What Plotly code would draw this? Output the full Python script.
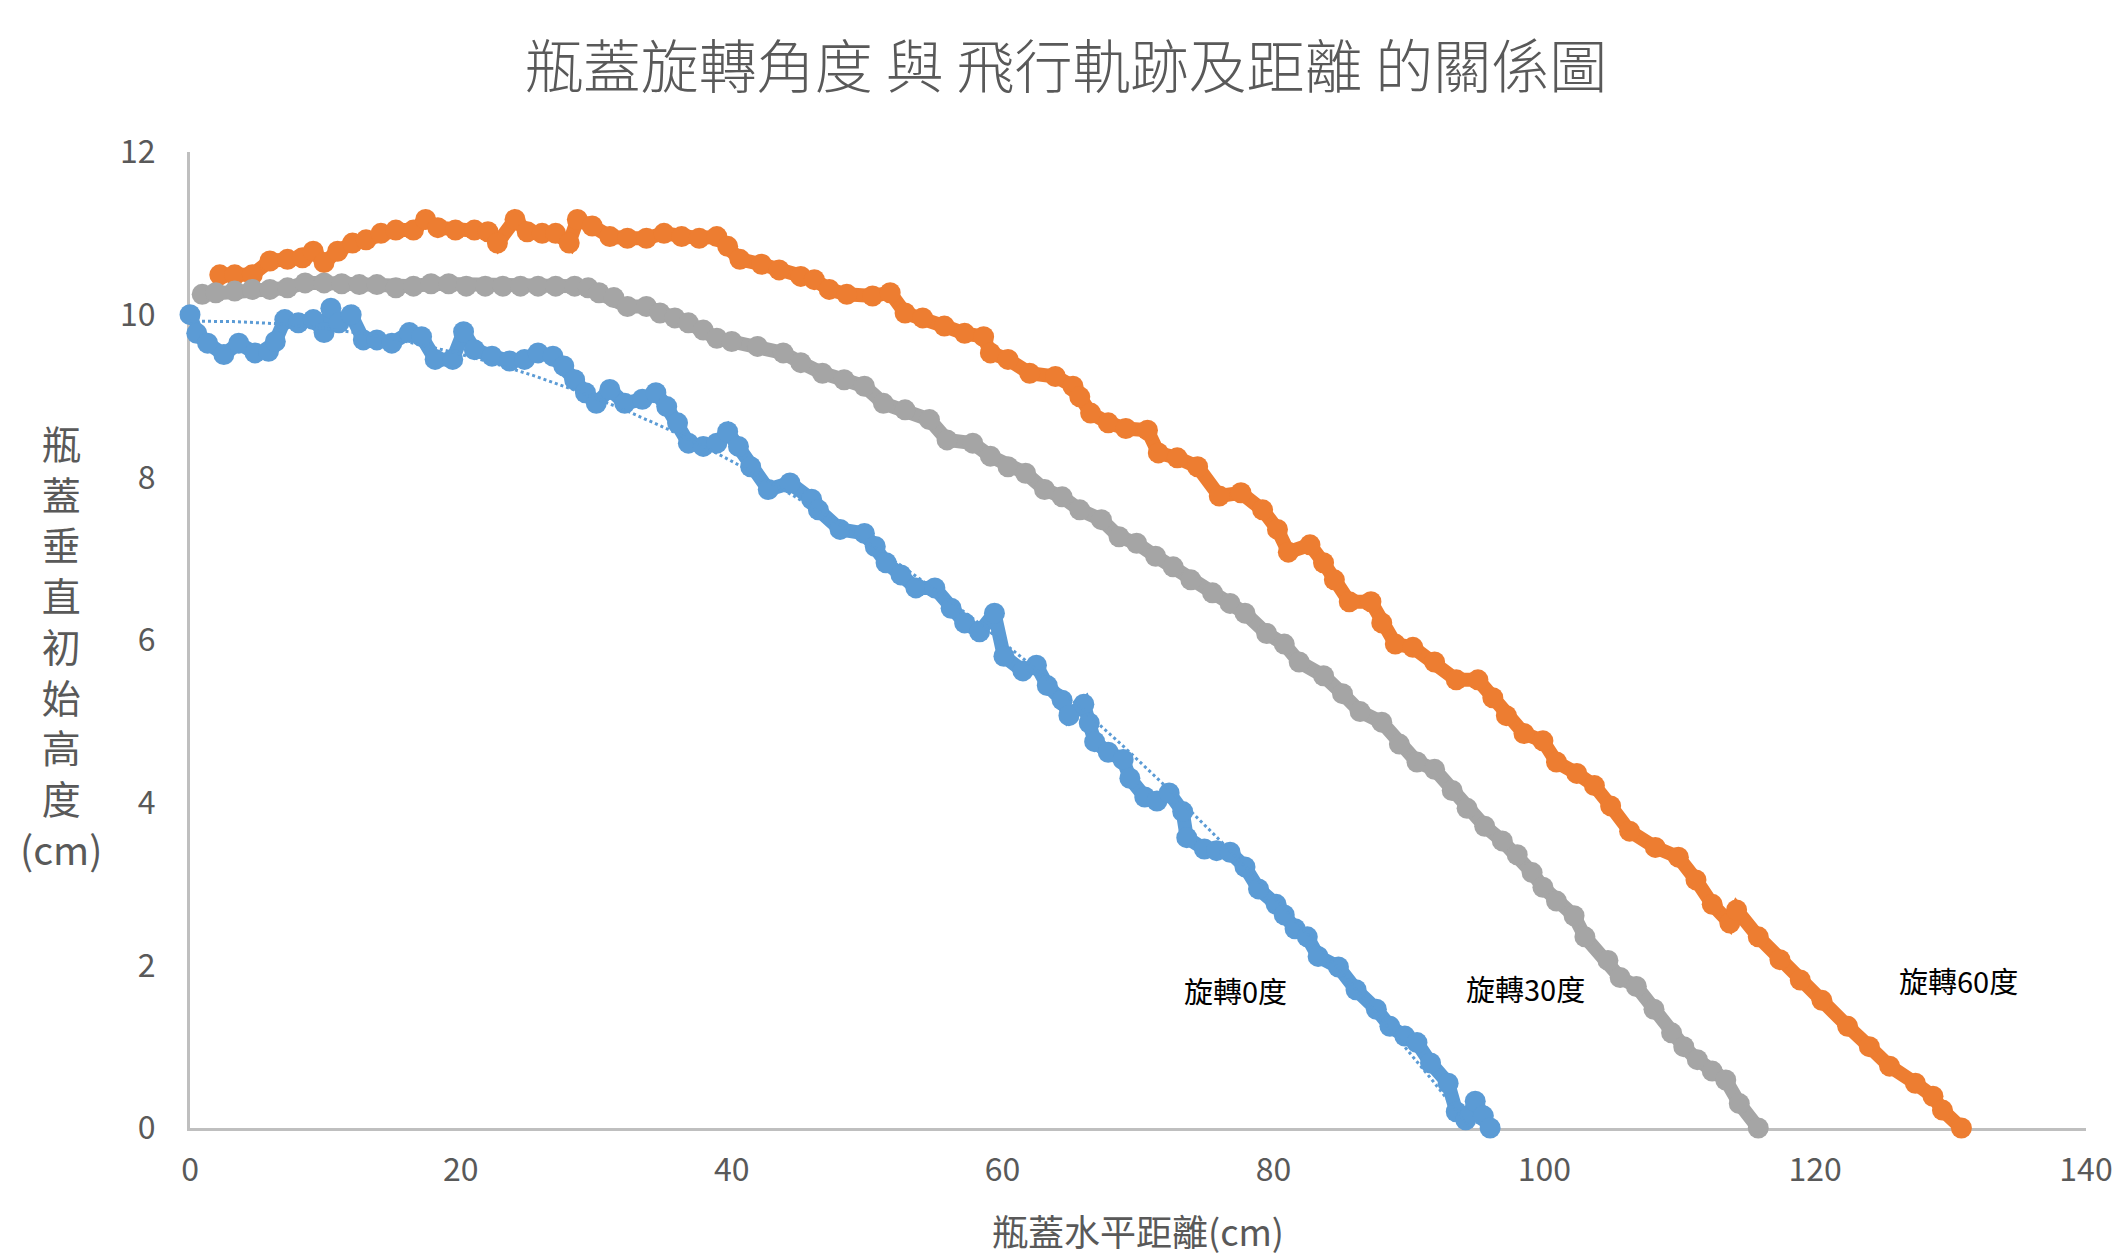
import numpy as np
import plotly.graph_objects as go

# ---------------- data ----------------
blue_x = [0.0, 0.5, 1.3, 2.5, 3.6, 4.8, 5.8, 6.3, 7.0, 8.0, 9.1, 9.9, 10.4, 11.0, 11.9,
          12.8, 13.8, 14.9, 16.2, 17.1, 18.1, 19.4, 20.2, 21.0, 22.3, 23.6, 24.7, 25.7,
          26.8, 27.6, 28.4, 29.2, 30.0, 31.0, 32.1, 33.4, 34.4, 35.2, 36.0, 36.8, 37.9,
          38.9, 39.7, 40.5, 41.4, 42.7, 44.3, 45.9, 46.4, 48.0, 49.8, 50.6, 51.4, 52.5,
          53.6, 55.0, 56.2, 57.2, 58.3, 59.4, 60.1, 61.5, 62.5, 63.3, 64.4, 64.9, 66.0,
          66.4, 66.8, 67.8, 68.9, 69.4, 70.5, 71.4, 72.3, 73.3, 73.6, 74.9, 75.8, 76.8,
          77.9, 78.9, 80.2, 80.8, 81.6, 82.5, 83.3, 84.8, 86.1, 87.6, 88.6, 89.7, 90.6,
          91.6, 92.9, 93.5, 94.2, 94.9, 95.5, 96.0]
blue_y = [10.0, 9.77, 9.65, 9.51, 9.65, 9.53, 9.55, 9.67, 9.94, 9.90, 9.94, 9.78, 10.08,
          9.90, 10.0, 9.69, 9.69, 9.65, 9.78, 9.73, 9.45, 9.45, 9.79, 9.57, 9.49, 9.43,
          9.45, 9.53, 9.49, 9.37, 9.20, 9.04, 8.91, 9.08, 8.91, 8.96, 9.04, 8.87, 8.67,
          8.42, 8.38, 8.42, 8.56, 8.38, 8.13, 7.85, 7.93, 7.73, 7.60, 7.36, 7.31, 7.15,
          6.95, 6.80, 6.64, 6.64, 6.39, 6.21, 6.10, 6.33, 5.80, 5.62, 5.69, 5.44, 5.26,
          5.07, 5.21, 4.98, 4.75, 4.62, 4.53, 4.30, 4.07, 4.02, 4.12, 3.89, 3.57, 3.43,
          3.41, 3.39, 3.21, 2.94, 2.75, 2.62, 2.45, 2.35, 2.11, 1.98, 1.70, 1.46, 1.25,
          1.13, 1.05, 0.80, 0.55, 0.20, 0.10, 0.33, 0.15, 0.0]

gray_x = [0.9, 1.9, 3.3, 4.6, 5.9, 7.2, 8.5, 9.9, 11.2, 12.5, 13.8, 15.2, 16.5, 17.8,
          19.1, 20.4, 21.8, 23.1, 24.4, 25.7, 27.0, 28.4, 29.4, 30.2, 31.3, 32.3, 33.7,
          34.7, 35.8, 36.8, 37.9, 38.9, 40.0, 41.9, 43.8, 45.1, 46.7, 48.3, 49.8, 51.2,
          52.8, 54.6, 55.9, 57.8, 59.1, 60.4, 61.7, 63.1, 64.4, 65.7, 67.3, 68.6, 69.9,
          71.3, 72.6, 73.9, 75.5, 76.8, 77.9, 79.5, 80.8, 81.9, 83.7, 85.1, 86.4, 88.0,
          89.3, 90.6, 91.9, 93.2, 94.3, 95.6, 96.9, 98.0, 99.1, 99.9, 100.9, 102.2,
          103.0, 104.7, 105.6, 106.8, 108.1, 109.4, 110.3, 111.3, 112.4, 113.4, 114.4,
          115.8]
gray_y = [10.25, 10.27, 10.29, 10.31, 10.31, 10.33, 10.39, 10.39, 10.38, 10.37, 10.37,
          10.33, 10.35, 10.38, 10.38, 10.35, 10.35, 10.35, 10.35, 10.35, 10.35, 10.35,
          10.33, 10.27, 10.21, 10.10, 10.10, 10.02, 9.96, 9.90, 9.81, 9.71, 9.67, 9.61,
          9.53, 9.41, 9.28, 9.20, 9.12, 8.91, 8.83, 8.71, 8.46, 8.42, 8.26, 8.13, 8.05,
          7.85, 7.76, 7.60, 7.48, 7.27, 7.19, 7.03, 6.90, 6.74, 6.58, 6.45, 6.33, 6.08,
          5.95, 5.73, 5.56, 5.34, 5.12, 4.99, 4.72, 4.50, 4.41, 4.15, 3.93, 3.71, 3.53,
          3.36, 3.14, 2.96, 2.79, 2.61, 2.35, 2.06, 1.85, 1.74, 1.46, 1.17, 1.00, 0.84,
          0.70, 0.59, 0.30, 0.0]

orange_x = [2.2, 3.3, 4.6, 5.9, 7.2, 8.3, 9.1, 9.9, 10.9, 12.0, 13.0, 14.1, 15.2, 16.5,
            17.4, 18.3, 19.6, 21.0, 22.0, 22.7, 24.0, 24.9, 26.0, 27.0, 28.0, 28.6, 29.7,
            31.0, 32.3, 33.7, 35.0, 36.3, 37.6, 38.9, 39.7, 40.6, 42.2, 43.5, 45.1, 46.1,
            47.2, 48.5, 50.4, 51.7, 52.8, 54.1, 55.7, 57.2, 58.6, 59.1, 60.4, 62.0, 63.9,
            65.2, 65.7, 66.5, 67.8, 69.1, 70.7, 71.5, 72.9, 74.4, 76.0, 77.6, 79.2, 80.3,
            81.1, 82.7, 83.7, 84.5, 85.6, 87.2, 88.0, 89.0, 90.3, 91.9, 93.5, 95.1, 96.2,
            97.2, 98.5, 99.9, 100.9, 102.4, 103.7, 104.9, 106.3, 108.2, 109.9, 111.2,
            112.4, 113.7, 114.2, 115.8, 117.4, 118.9, 120.5, 122.4, 124.0, 125.5, 127.4,
            128.7, 129.4, 130.8]
orange_y = [10.49, 10.49, 10.49, 10.66, 10.68, 10.70, 10.78, 10.64, 10.78, 10.88, 10.92,
            11.00, 11.04, 11.04, 11.17, 11.07, 11.04, 11.04, 11.02, 10.88, 11.17, 11.02,
            11.00, 11.00, 10.88, 11.17, 11.09, 10.96, 10.94, 10.94, 11.00, 10.96, 10.94,
            10.96, 10.84, 10.68, 10.62, 10.55, 10.47, 10.43, 10.31, 10.25, 10.23, 10.27,
            10.02, 9.96, 9.86, 9.77, 9.73, 9.53, 9.45, 9.28, 9.24, 9.12, 8.99, 8.79, 8.67,
            8.60, 8.58, 8.30, 8.24, 8.13, 7.77, 7.81, 7.60, 7.36, 7.08, 7.17, 6.95, 6.74,
            6.47, 6.47, 6.21, 5.95, 5.91, 5.73, 5.51, 5.51, 5.29, 5.07, 4.85, 4.76, 4.50,
            4.36, 4.21, 3.96, 3.65, 3.45, 3.33, 3.05, 2.75, 2.52, 2.68, 2.35, 2.07, 1.82,
            1.57, 1.25, 1.00, 0.76, 0.55, 0.39, 0.22, 0.0]

x_ticks = [0, 20, 40, 60, 80, 100, 120, 140]
y_ticks = [0, 2, 4, 6, 8, 10, 12]

labels = ["旋轉0度", "旋轉30度", "旋轉60度"]
label_x = [77.2, 98.6, 130.6]
label_y = [1.70, 1.72, 1.82]

title_text = "瓶蓋旋轉角度 與 飛行軌跡及距離 的關係圖"
x_title = "瓶蓋水平距離(cm)"
y_title_chars = ["瓶", "蓋", "垂", "直", "初", "始", "高", "度", "(cm)"]

# ---------------- styling ----------------
FONT = "Noto Sans CJK TC, Noto Sans CJK SC, sans-serif"
TXT = "#595959"
AXIS = "#BFBFBF"
BLUE, ORANGE, GRAY = "#5B9BD5", "#ED7D31", "#A5A5A5"
MS, LW = 21, 14

fig = go.Figure()

def series(x, y, color, name):
    fig.add_trace(go.Scatter(
        x=x, y=y, mode="lines+markers", name=name,
        line=dict(color=color, width=LW),
        marker=dict(size=MS, color=color, line=dict(width=0)),
        cliponaxis=False, hoverinfo="x+y"))

series(blue_x, blue_y, BLUE, labels[0])

# polynomial (order 2) trendline of the 0-degree series, as in the source chart
coef = np.polyfit(blue_x, blue_y, 2)
tx = np.linspace(min(blue_x), max(blue_x), 300)
fig.add_trace(go.Scatter(x=tx, y=np.polyval(coef, tx), mode="lines",
                         line=dict(color=BLUE, width=3, dash="dot"),
                         hoverinfo="skip", showlegend=False))

series(orange_x, orange_y, ORANGE, labels[2])
series(gray_x, gray_y, GRAY, labels[1])

annotations = []
for t, xx, yy in zip(labels, label_x, label_y):
    annotations.append(dict(x=xx, y=yy, xref="x", yref="y", text=t, showarrow=False,
                            font=dict(family=FONT, size=29, color="#000000"),
                            xanchor="center", yanchor="middle"))

annotations.append(dict(x=0.5, y=-0.104, xref="paper", yref="paper", text=x_title,
                        showarrow=False, xanchor="center", yanchor="middle",
                        font=dict(family=FONT, size=36, color=TXT)))
annotations.append(dict(x=-0.068, y=0.495, xref="paper", yref="paper",
                        text="<br>".join(y_title_chars), showarrow=False,
                        xanchor="center", yanchor="middle", align="center",
                        font=dict(family=FONT, size=39, color=TXT)))

axis_common = dict(showline=True, linecolor=AXIS, linewidth=3, showgrid=False,
                   zeroline=False, ticks="", layer="below traces",
                   tickfont=dict(family=FONT, size=32, color=TXT))

fig.update_layout(
    width=2123, height=1254,
    margin=dict(l=182, r=45, t=144, b=134),
    paper_bgcolor="white", plot_bgcolor="white",
    showlegend=False,
    title=dict(text=title_text, x=0.4984, xanchor="center", xref="container",
               y=1 - 60 / 1254, yanchor="middle", yref="container",
               font=dict(family=FONT, size=58, color=TXT, weight=300)),
    xaxis=dict(range=[0, 140], tickvals=x_ticks, ticklabelstandoff=12, **axis_common),
    yaxis=dict(range=[0, 12], tickvals=y_ticks, ticklabelstandoff=25, **axis_common),
    annotations=annotations,
)

fig.write_html("out.html")
